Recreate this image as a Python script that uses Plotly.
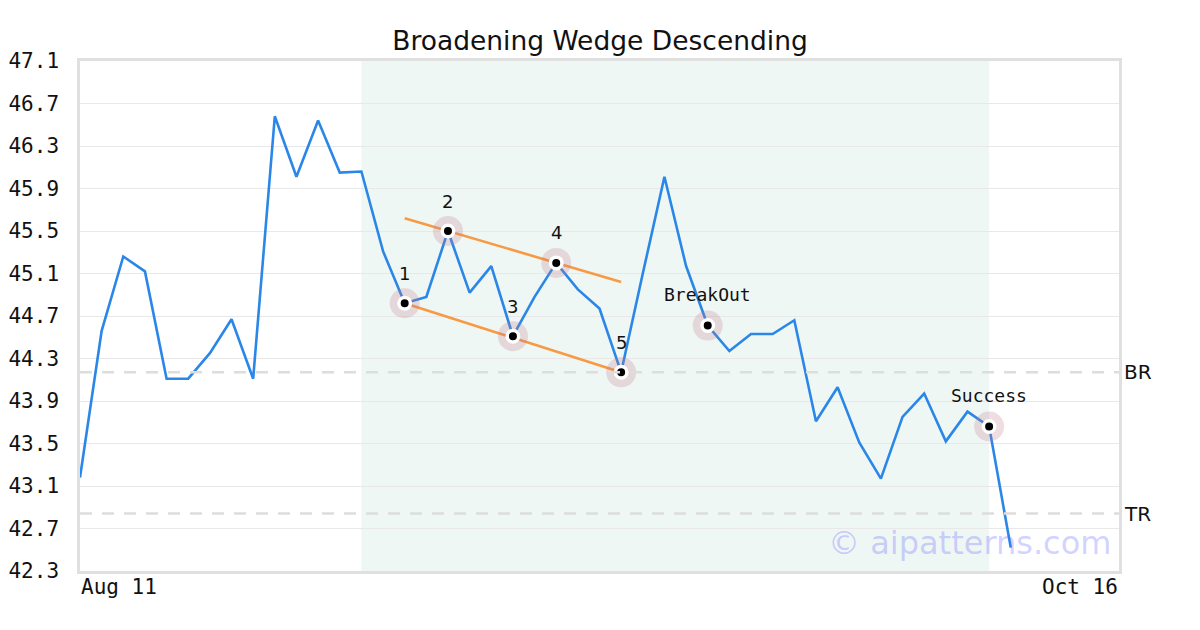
import plotly.graph_objects as go

# ---- data ----
prices = [43.18, 44.56, 45.26, 45.12, 44.11, 44.11, 44.35, 44.67, 44.11, 46.58,
          46.01, 46.54, 46.05, 46.06, 45.31, 44.82, 44.88, 45.50, 44.92, 45.17,
          44.51, 44.88, 45.20, 44.95, 44.77, 44.17, 45.10, 46.01, 45.17, 44.61,
          44.37, 44.53, 44.53, 44.66, 43.71, 44.03, 43.51, 43.17, 43.75, 43.97,
          43.52, 43.80, 43.66, 42.52]
x_idx = list(range(len(prices)))
x_end = 48
x_tick_labels = ["Aug 11", "Oct 16"]

pattern_idx = [15, 17, 20, 22, 25]
pattern_labels = ["1", "2", "3", "4", "5"]
event_idx = [29, 42]
event_labels = ["BreakOut", "Success"]

upper_x = [15, 25]
upper_y = [45.62, 45.02]
lower_x = [15, 25]
lower_y = [44.82, 44.17]

shade_range = [13, 42]
br_level = 44.17
tr_level = 42.84
y_ticks = [42.3, 42.7, 43.1, 43.5, 43.9, 44.3, 44.7, 45.1, 45.5, 45.9, 46.3, 46.7, 47.1]

SANS = "DejaVu Sans"
MONO = "DejaVu Sans Mono"

# page body adds an 8px offset; compensate in margins
OFF_X, OFF_Y = 8, 7
W, H = 1200, 630
PL, PT, PW, PH = 80 - OFF_X, 60 - OFF_Y, 1039, 510

fig = go.Figure()

fig.add_trace(go.Scatter(x=x_idx, y=prices, mode="lines",
                         line=dict(color="#2a87e8", width=2.6), hoverinfo="skip"))
for xs, ys in [(upper_x, upper_y), (lower_x, lower_y)]:
    fig.add_trace(go.Scatter(x=xs, y=ys, mode="lines",
                             line=dict(color="#f79a43", width=2.6), hoverinfo="skip"))

mark_idx = pattern_idx + event_idx
mark_y = [prices[i] for i in mark_idx]
fig.add_trace(go.Scatter(x=mark_idx, y=mark_y, mode="markers",
                         marker=dict(size=30, color="rgba(190,120,140,0.25)", line=dict(width=0)),
                         hoverinfo="skip"))
fig.add_trace(go.Scatter(x=mark_idx, y=mark_y, mode="markers",
                         marker=dict(size=11.5, color="black", line=dict(width=3.5, color="white")),
                         hoverinfo="skip"))

for i, t in zip(pattern_idx, pattern_labels):
    fig.add_annotation(x=i, y=prices[i], text=t, showarrow=False, yshift=30,
                       font=dict(family=SANS, size=18, color="#111"))
for i, t in zip(event_idx, event_labels):
    fig.add_annotation(x=i, y=prices[i], text=t, showarrow=False, yshift=31,
                       font=dict(family=MONO, size=18, color="#111"))

# shaded pattern region
fig.add_shape(type="rect", xref="x", yref="paper", x0=shade_range[0], x1=shade_range[1],
              y0=0, y1=1, fillcolor="#eff7f4", line=dict(width=0), layer="below")
# dashed levels
for lvl, name in [(br_level, "BR"), (tr_level, "TR")]:
    fig.add_shape(type="line", xref="paper", yref="y", x0=0, x1=1, y0=lvl, y1=lvl,
                  line=dict(color="#dddddd", width=2.5, dash="12px,10px"), layer="above")
    fig.add_annotation(xref="paper", yref="y", x=1, y=lvl, text=name, showarrow=False,
                       xanchor="left", xshift=3, font=dict(family=SANS, size=20, color="#111"))

# x tick labels
fig.add_annotation(xref="x", yref="paper", x=0, y=0, text=x_tick_labels[0], showarrow=False,
                   xanchor="left", yanchor="middle", yshift=-16, xshift=-1,
                   font=dict(family=MONO, size=21, color="#111"))
fig.add_annotation(xref="x", yref="paper", x=x_end, y=0, text=x_tick_labels[1], showarrow=False,
                   xanchor="right", yanchor="middle", yshift=-16, xshift=1,
                   font=dict(family=MONO, size=21, color="#111"))

# watermark
fig.add_annotation(xref="paper", yref="paper", x=1, y=0.055, text="© aipatterns.com",
                   showarrow=False, xanchor="right", yanchor="middle", xshift=-6,
                   font=dict(family=SANS, size=32, color="rgba(100,100,255,0.3)"))

fig.update_layout(
    width=W, height=H,
    margin=dict(l=PL, r=W - PL - PW, t=PT, b=H - PT - PH, autoexpand=False),
    paper_bgcolor="white", plot_bgcolor="white",
    showlegend=False,
    title=dict(text="Broadening Wedge Descending", x=(600 - OFF_X) / W, xanchor="center",
               y=1 - (40 - OFF_Y) / H, yanchor="middle", yref="container", automargin=False,
               font=dict(family=SANS, size=26.5, color="#111")),
    xaxis=dict(range=[0, x_end], showgrid=False, zeroline=False, showticklabels=False,
               ticks="", showline=True, linecolor="#e0e0e0", linewidth=2.5, mirror=True,
               automargin=False),
    yaxis=dict(range=[y_ticks[0], y_ticks[-1]], tickvals=y_ticks,
               ticktext=[f"{v:.1f}" for v in y_ticks],
               showgrid=True, gridcolor="#e8e8e8", gridwidth=1, zeroline=False,
               ticks="outside", ticklen=14, tickcolor="rgba(0,0,0,0)",
               tickfont=dict(family=MONO, size=21, color="#111"),
               showline=True, linecolor="#e0e0e0", linewidth=2.5, mirror=True,
               automargin=False),
)

fig.write_html("out.html")
